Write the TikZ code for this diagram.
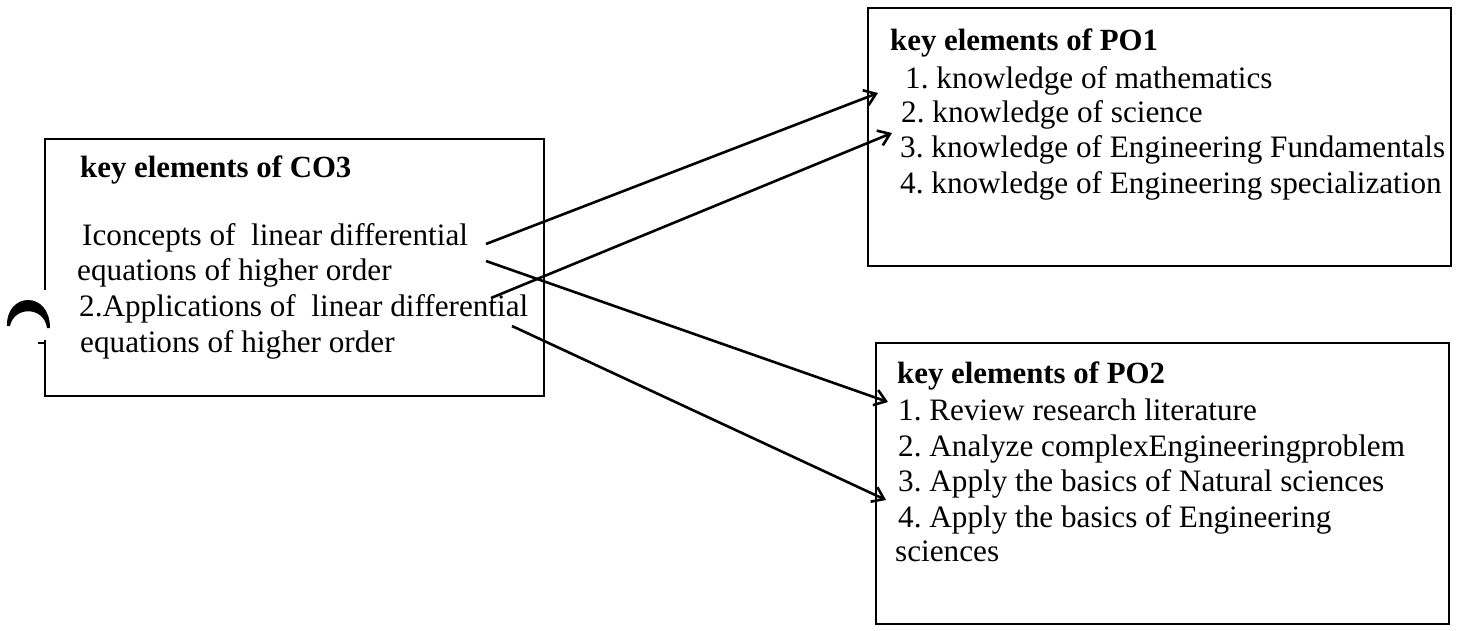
\documentclass[tikz,border=0pt]{standalone}
\usepackage{fontspec}
\setmainfont{Liberation Serif}
\usetikzlibrary{arrows.meta}
\frenchspacing
\begin{document}
\begin{tikzpicture}[x=1pt,y=-1pt,
  box/.style={draw,line width=1.6pt,inner sep=0pt,anchor=north west},
  txt/.style={anchor=base west,inner sep=0pt,font=\fontsize{31.2}{36}\selectfont},
  hd/.style={anchor=base west,inner sep=0pt,font=\fontsize{30.8}{36}\selectfont\bfseries},
  link/.style={line width=2.6pt,-{Straight Barb[length=11pt,width=16pt,line width=2.6pt]}}]
\useasboundingbox (0,0) rectangle (1460,630);
% boxes
\node[box,minimum width=499pt,minimum height=257pt] (co3) at (44,138) {};
\node[box,minimum width=583pt,minimum height=258pt] (po1) at (867,7) {};
\node[box,minimum width=573pt,minimum height=281pt] (po2) at (875,342) {};
% CO3 text
\node[hd]  (co3h) at (80,177) {key elements of CO3};
\node[txt] (co3a) at (82,245) {Iconcepts of\ \ linear differential};
\node[txt] (co3b) at (77,280) {equations of higher order};
\node[txt] (co3c) at (79,316) {2.Applications of\ \ linear differential};
\node[txt] (co3d) at (80,352) {equations of higher order};
% PO1 text
\node[hd]  (po1h) at (890,50) {key elements of PO1};
\node[txt] (po1a) at (905,88) {1. knowledge of mathematics};
\node[txt] (po1b) at (901,122) {2. knowledge of science};
\node[txt] (po1c) at (900,157) {3. knowledge of Engineering Fundamentals};
\node[txt] (po1d) at (900,193) {4. knowledge of Engineering specialization};
% PO2 text
\node[hd]  (po2h) at (897,383) {key elements of PO2};
\node[txt] (po2a) at (898,420) {1. Review research literature};
\node[txt] (po2b) at (898,456) {2. Analyze complexEngineeringproblem};
\node[txt] (po2c) at (898,491) {3. Apply the basics of Natural sciences};
\node[txt] (po2d) at (898,527) {4. Apply the basics of Engineering};
\node[txt] (po2e) at (895,561) {sciences};
% connectors
\coordinate (s1) at (486,244); \coordinate (e1) at (878,93);
\coordinate (s2) at (491,298); \coordinate (e2) at (892,133);
\coordinate (s3) at (486,261); \coordinate (e3) at (888,402);
\coordinate (s4) at (512,326); \coordinate (e4) at (886,500);
\draw[link] (s1) -- (e1);
\draw[link] (s2) -- (e2);
\draw[link] (s3) -- (e3);
\draw[link] (s4) -- (e4);
% scan mark at left edge
\fill[white] (40,290) rectangle (48,340);
\fill (7,326) .. controls (6,292) and (50,290) .. (50,328) -- (47,328) .. controls (44,306) and (14,306) .. (10,326) -- cycle;
\draw[line width=1.2pt] (38,343) -- (46,343);
\end{tikzpicture}
\end{document}
